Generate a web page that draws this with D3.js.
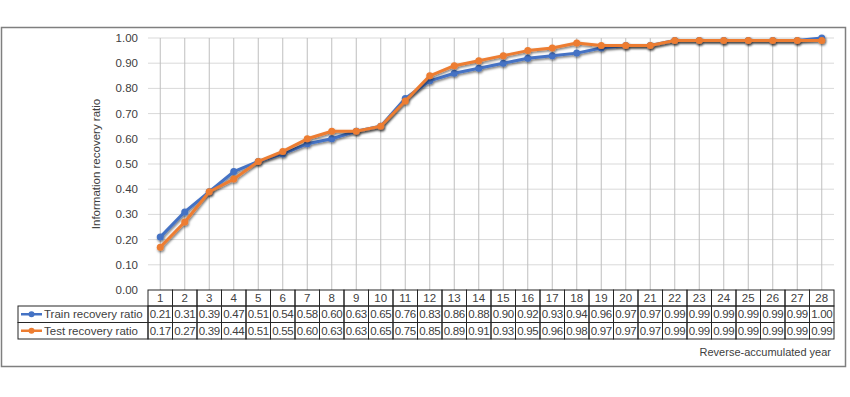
<!DOCTYPE html>
<html><head><meta charset="utf-8">
<script src="https://cdn.jsdelivr.net/npm/d3@7"></script>
<style>body{margin:0;background:#fff}svg{display:block}text{font-family:"Liberation Sans",Arial,sans-serif;fill:#404040}</style>
</head><body>
<svg id="c" width="850" height="397"></svg>
<script>
const years = d3.range(1, 29);
const train = [0.21,0.31,0.39,0.47,0.51,0.54,0.58,0.60,0.63,0.65,0.76,0.83,0.86,0.88,0.90,0.92,0.93,0.94,0.96,0.97,0.97,0.99,0.99,0.99,0.99,0.99,0.99,1.00];
const test  = [0.17,0.27,0.39,0.44,0.51,0.55,0.60,0.63,0.63,0.65,0.75,0.85,0.89,0.91,0.93,0.95,0.96,0.98,0.97,0.97,0.97,0.99,0.99,0.99,0.99,0.99,0.99,0.99];
const yTicks = [0,0.1,0.2,0.3,0.4,0.5,0.6,0.7,0.8,0.9,1.0];
const seriesNames = ["Train recovery ratio","Test recovery ratio"];
const colors = ["#4472C4","#ED7D31"];

const svg = d3.select("#c");
const L = 148, R = 834, T = 38, B = 290;
const x = d3.scaleBand().domain(years).range([L, R]);
const y = d3.scaleLinear().domain([0, 1]).range([B, T]);

const defs = svg.append("defs");
const f = defs.append("filter").attr("id","sh").attr("x","-10%").attr("y","-10%").attr("width","120%").attr("height","130%");
f.append("feDropShadow").attr("dx",0.8).attr("dy",1.5).attr("stdDeviation",0.8).attr("flood-color","#000").attr("flood-opacity",0.55);

// outer border
svg.append("rect").attr("x",1.5).attr("y",27.5).attr("width",844).attr("height",339).attr("fill","#fff").attr("stroke","#7f7f7f").attr("stroke-width",1.5);

// horizontal gridlines
svg.append("g").selectAll("line").data(yTicks.slice(1)).join("line")
  .attr("x1",L).attr("x2",R).attr("y1",d=>y(d)).attr("y2",d=>y(d))
  .attr("stroke","#d9d9d9").attr("stroke-width",1);
// vertical gridlines
svg.append("g").selectAll("line").data(years).join("line")
  .attr("x1",d=>x(d)+x.bandwidth()/2).attr("x2",d=>x(d)+x.bandwidth()/2)
  .attr("y1",T).attr("y2",B).attr("stroke","#bfbfbf").attr("stroke-width",1);

// y axis labels
svg.append("g").selectAll("text").data(yTicks).join("text")
  .attr("x",138).attr("y",d=>y(d)).attr("dy","0.35em").attr("text-anchor","end")
  .attr("font-size","11.5px").text(d=>d3.format(".2f")(d));

svg.append("text").attr("transform",`translate(100,${(T+B)/2}) rotate(-90)`)
  .attr("text-anchor","middle").attr("font-size","11.5px").text("Information recovery ratio");

// lines
const line = d3.line().x((d,i)=>x(years[i])+x.bandwidth()/2).y(d=>y(d));
[train,test].forEach((s,k)=>{
  const g = svg.append("g").attr("filter","url(#sh)");
  g.append("path").attr("d",line(s)).attr("fill","none").attr("stroke",colors[k]).attr("stroke-width",3).attr("stroke-linejoin","round");
  g.selectAll("circle").data(s).join("circle")
    .attr("cx",(d,i)=>x(years[i])+x.bandwidth()/2).attr("cy",d=>y(d)).attr("r",3.5).attr("fill",colors[k]);
});

// data table
const rowY = [290, 306, 322.5, 339];
const tg = svg.append("g");
const fs = "11.5px";
// category row
tg.selectAll("rect.cat").data(years).join("rect").attr("class","cat")
  .attr("x",d=>x(d)).attr("y",rowY[0]).attr("width",x.bandwidth()).attr("height",rowY[1]-rowY[0])
  .attr("fill","none").attr("stroke","#262626").attr("stroke-width",1);
tg.selectAll("text.cat").data(years).join("text").attr("class","cat")
  .attr("x",d=>x(d)+x.bandwidth()/2).attr("y",(rowY[0]+rowY[1])/2).attr("dy","0.36em")
  .attr("text-anchor","middle").attr("font-size",fs).text(d=>d);
[train,test].forEach((s,k)=>{
  const y0 = rowY[k+1], y1 = rowY[k+2];
  tg.append("rect").attr("x",18).attr("y",y0).attr("width",L-18).attr("height",y1-y0)
    .attr("fill","none").attr("stroke","#262626").attr("stroke-width",1);
  tg.append("line").attr("x1",21).attr("x2",42).attr("y1",(y0+y1)/2).attr("y2",(y0+y1)/2)
    .attr("stroke",colors[k]).attr("stroke-width",2.5);
  tg.append("circle").attr("cx",31.5).attr("cy",(y0+y1)/2).attr("r",3).attr("fill",colors[k]);
  tg.append("text").attr("x",44).attr("y",(y0+y1)/2).attr("dy","0.36em").attr("font-size",fs).text(seriesNames[k]);
  tg.selectAll("rect.v"+k).data(s).join("rect").attr("class","v"+k)
    .attr("x",(d,i)=>x(years[i])).attr("y",y0).attr("width",x.bandwidth()).attr("height",y1-y0)
    .attr("fill","none").attr("stroke","#262626").attr("stroke-width",1);
  tg.selectAll("text.v"+k).data(s).join("text").attr("class","v"+k)
    .attr("x",(d,i)=>x(years[i])+x.bandwidth()/2).attr("y",(y0+y1)/2).attr("dy","0.36em")
    .attr("text-anchor","middle").attr("font-size",fs).attr("letter-spacing","-0.3px").text(d=>d3.format(".2f")(d));
});

svg.append("text").attr("x",831).attr("y",352).attr("dy","0.35em").attr("text-anchor","end")
  .attr("font-size","11px").text("Reverse-accumulated year");
</script>
</body></html>
